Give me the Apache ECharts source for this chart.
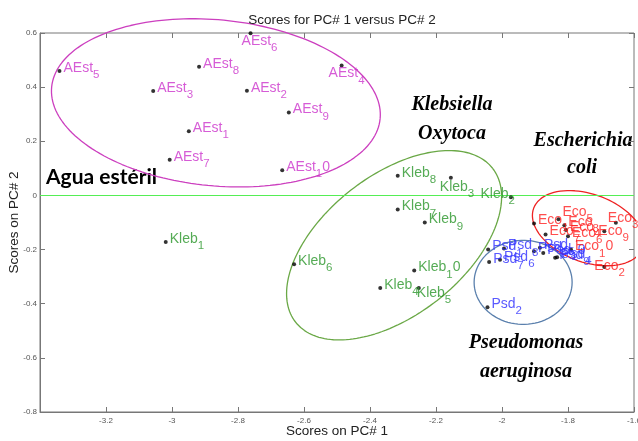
<!DOCTYPE html>
<html><head><meta charset="utf-8">
<script src="https://cdn.jsdelivr.net/npm/echarts@6/dist/echarts.min.js"></script>
<style>html,body{margin:0;padding:0;background:#fff}#c{width:638px;height:441px}</style>
</head><body><div id="c"></div>
<script>
// ---------- data ----------
const xTicks = [-3.2, -3, -2.8, -2.6, -2.4, -2.2, -2, -1.8, -1.6];
const yTicks = [0.6, 0.4, 0.2, 0, -0.2, -0.4, -0.6, -0.8];

const aestIds = ['1','2','3','4','5','6','7','8','9','10'];
const aestX = [-2.949,-2.773,-3.057,-2.486,-3.341,-2.762,-3.007,-2.918,-2.646,-2.666];
const aestY = [0.237,0.387,0.386,0.480,0.460,0.599,0.132,0.475,0.306,0.093];

const klebIds = ['1','2','3','4','5','6','7','8','9','10'];
const klebX = [-3.019,-1.973,-2.155,-2.369,-2.252,-2.630,-2.316,-2.316,-2.234,-2.266];
const klebY = [-0.172,-0.007,0.065,-0.342,-0.342,-0.254,-0.052,0.073,-0.100,-0.277];

const psdIds = ['1','2','3','4','5','6','7','8','9','10'];
const psdX = [-2.042,-2.044,-1.903,-1.833,-1.885,-2.006,-2.039,-1.994,-1.839,-1.875];
const psdY = [-0.200,-0.413,-0.206,-0.228,-0.193,-0.238,-0.246,-0.196,-0.230,-0.213];

const ecoIds = ['1','2','3','4','5','6','7','8','9','10'];
const ecoX = [-1.903,-1.690,-1.655,-1.806,-1.829,-1.800,-1.868,-1.811,-1.690,-1.791];
const ecoY = [-0.104,-0.264,-0.101,-0.128,-0.088,-0.151,-0.144,-0.110,-0.132,-0.200];

// group ellipses: centre (data units), radii in px, angle in degrees
const ellipses = [
  {name:'AEst', cx:-2.867, cy:0.342, a:165, b:83, ang:-5.5, color:'#cc3fbf'},
  {name:'Kleb', cx:-2.327, cy:-0.184, a:125, b:70, ang:38, color:'#6aa846'},
  {name:'Psd',  cx:-1.936, cy:-0.321, a:49,  b:42, ang:0,  color:'#5b80ad'},
  {name:'Eco',  cx:-1.739, cy:-0.121, a:58,  b:34, ang:-20, color:'#ee2222'}
];

// ---------- styles ----------
const SANS = "'Liberation Sans',Arial,Helvetica,sans-serif";
const SERIF = "italic bold 20px 'Liberation Serif','DejaVu Serif',serif";
const labelOffsets = {
  'AEst6': {offset:[-13, 11]},
  'AEst4': {offset:[-17, 11]},
  'Kleb3': {offset:[-15, 12]},
  'Kleb2': {position:'left', offset:[8, 0]},
  'Kleb5': {offset:[-6, 8]},
  'Eco5':  {offset:[0, -4]},
  'Eco3':  {offset:[-12, -2]},
  'Eco9':  {offset:[-10, 3]},
  'Eco2':  {offset:[-14, 2]}
};

function rich(color){
  return {
    m:{fontSize:14, color:color, fontFamily:SANS, verticalAlign:'top'},
    s:{fontSize:11.5, color:color, fontFamily:SANS, verticalAlign:'top', padding:[8,0,0,0]}
  };
}
function makeSeries(prefix, ids, xs, ys, color){
  const data = ids.map((id,i)=>{
    const name = prefix + id;
    const d = {name:name, value:[xs[i], ys[i]], lbl:'{m|'+prefix+'}{s|'+id.charAt(0)+'}' + (id.length>1 ? '{m|'+id.slice(1)+'}' : '')};
    const o = labelOffsets[name];
    if (o) d.label = Object.assign({}, o);
    return d;
  });
  return {
    type:'scatter', name:prefix, data:data, symbol:'circle', symbolSize:4,
    xAxisIndex:0, yAxisIndex:0,
    itemStyle:{color:'#000'}, z:5,
    label:{show:true, position:'right', distance:2, formatter:p=>p.data.lbl, rich:rich(color)}
  };
}

const chart = echarts.init(document.getElementById('c'), null, {renderer:'canvas'});
const tickFont = {fontSize:8, color:'#555', fontFamily:SANS};
const fmt = v => String(Math.round(v*10)/10);
function axis(extra, showLine){
  return Object.assign({
    type:'value', gridIndex:0,
    axisLine:{show:showLine, onZero:false, lineStyle:{color:'#777', width:1}},
    axisTick:{show:true, inside:true, length:5, lineStyle:{color:'#777'}},
    splitLine:{show:false}, nameMoveOverlap:false
  }, extra);
}
const gridBox = {left:40, right:4, top:33, bottom:29, containLabel:false, outerBoundsMode:'none'};

const option = {
  animation:false,
  backgroundColor:'#fff',
  title:{text:'Scores for PC# 1 versus PC# 2', left:337, top:8, textAlign:'center',
    textStyle:{fontSize:13.5, fontWeight:'normal', color:'#222', fontFamily:SANS}},
  grid:[
    Object.assign({show:true, borderColor:'#777', borderWidth:1, backgroundColor:'transparent'}, gridBox),
    Object.assign({show:false}, gridBox)
  ],
  xAxis:[
    axis({min:-3.4, max:-1.6, interval:0.2, position:'bottom',
      name:'Scores on PC# 1', nameLocation:'middle', nameGap:12,
      nameTextStyle:{fontSize:13.5, color:'#222', fontFamily:SANS},
      axisLabel:Object.assign({}, tickFont, {margin:5, formatter:v=>xTicks.some(t=>Math.abs(t-v)<1e-9)?fmt(v):''})}, true),
    axis({gridIndex:1, min:-3.4, max:-1.6, interval:0.2, position:'top', axisLabel:{show:false}}, false)
  ],
  yAxis:[
    axis({min:-0.8, max:0.6, interval:0.2, position:'left',
      name:'Scores on PC# 2', nameLocation:'middle', nameGap:19,
      nameTextStyle:{fontSize:13.5, color:'#222', fontFamily:SANS},
      axisLabel:Object.assign({}, tickFont, {margin:3, formatter:v=>yTicks.some(t=>Math.abs(t-v)<1e-9)?fmt(v):''})}, true),
    axis({min:-0.8, max:0.6, interval:0.2, position:'right', axisLabel:{show:false}}, false),
    {type:'value', gridIndex:1, min:1, max:2, show:false}
  ],
  series:[
    {type:'line', name:'zero', data:[], xAxisIndex:0, yAxisIndex:0,
      markLine:{silent:true, symbol:['none','none'], label:{show:false},
      lineStyle:{color:'#55ee55', width:1, type:'solid'}, data:[{yAxis:0}]}},
    makeSeries('AEst', aestIds, aestX, aestY, '#cc33cc'),
    makeSeries('Kleb', klebIds, klebX, klebY, '#2a962a'),
    makeSeries('Psd', psdIds, psdX, psdY, '#3030ff'),
    makeSeries('Eco', ecoIds, ecoX, ecoY, '#ff2020')
  ],
  graphic:[
    {type:'text', left:46, top:167, style:{text:'Agua estéril', font:"bold 21px Lato,'Open Sans',sans-serif", fill:'#000'}},
    {type:'text', x:452, y:105, style:{text:'Klebsiella', font:SERIF, fill:'#000', align:'center', verticalAlign:'middle'}},
    {type:'text', x:452, y:134, style:{text:'Oxytoca', font:SERIF, fill:'#000', align:'center', verticalAlign:'middle'}},
    {type:'text', x:583, y:141, style:{text:'Escherichia', font:SERIF, fill:'#000', align:'center', verticalAlign:'middle'}},
    {type:'text', x:582, y:168, style:{text:'coli', font:SERIF, fill:'#000', align:'center', verticalAlign:'middle'}},
    {type:'text', x:526, y:343, style:{text:'Pseudomonas', font:SERIF, fill:'#000', align:'center', verticalAlign:'middle'}},
    {type:'text', x:526, y:372, style:{text:'aeruginosa', font:SERIF, fill:'#000', align:'center', verticalAlign:'middle'}}
  ]
};
chart.setOption(option);

// ellipses drawn in data space (computed from centre + pixel radii)
const ellSeries = ellipses.map(e=>{
  const c = chart.convertToPixel({gridIndex:0}, [e.cx, e.cy]);
  const th = e.ang*Math.PI/180, pts = [];
  for (let k=0; k<=180; k++){
    const t = k/180*2*Math.PI;
    const px = c[0] + e.a*Math.cos(t)*Math.cos(th) - e.b*Math.sin(t)*Math.sin(th);
    const py = c[1] - (e.a*Math.cos(t)*Math.sin(th) + e.b*Math.sin(t)*Math.cos(th));
    pts.push(chart.convertFromPixel({gridIndex:0}, [px, py]));
  }
  return {type:'line', name:e.name+' group', data:pts, xAxisIndex:0, yAxisIndex:0,
    showSymbol:false, symbol:'none', smooth:false, clip:false,
    lineStyle:{color:e.color, width:1.3}, z:3, silent:true};
});
chart.setOption({series: option.series.concat(ellSeries)});
</script>
</body></html>
